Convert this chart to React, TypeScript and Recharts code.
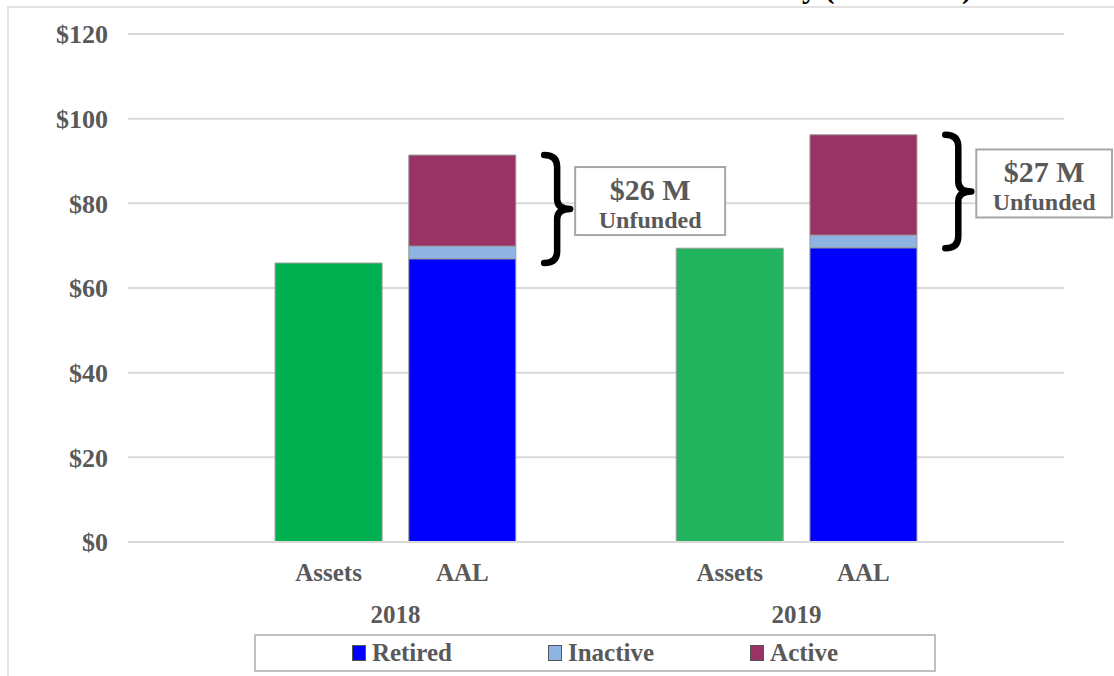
import React from 'react';
import { BarChart, Bar, XAxis, YAxis, CartesianGrid, ReferenceArea, Cell } from 'recharts';

// categories incl. empty spacer slots between the two years
const CATEGORIES = ['', 'Assets', 'AAL', '', 'Assets', 'AAL', ''];
const YEARS = ['', '2018', '2018', '', '2019', '2019', ''];
const ASSETS = [null, 65.9, null, null, 69.4, null, null];
const RETIRED = [null, null, 66.9, null, null, 69.5, null];
const INACTIVE = [null, null, 3.0, null, null, 3.0, null];
const ACTIVE = [null, null, 21.5, null, null, 23.7, null];
const ASSET_COLORS = ['#00B050', '#00B050', '#00B050', '#21B35E', '#21B35E', '#21B35E', '#21B35E'];
const Y_TICKS = [0, 20, 40, 60, 80, 100, 120];
const UNFUNDED_YEARS = ['2018', '2019'];
const UNFUNDED_LABELS = ['$26 M', '$27 M'];

const LEGEND = [
  { name: 'Retired', color: '#0000FF' },
  { name: 'Inactive', color: '#8EB4E3' },
  { name: 'Active', color: '#993366' },
];

const data = CATEGORIES.map((name, i) => ({
  id: String(i),
  name,
  year: YEARS[i],
  assets: ASSETS[i],
  retired: RETIRED[i],
  inactive: INACTIVE[i],
  active: ACTIVE[i],
}));

const annotations = UNFUNDED_YEARS.map((yr, k) => {
  const aal = data.find(d => d.year === yr && d.name === 'AAL')!;
  const assets = data.find(d => d.year === yr && d.name === 'Assets')!;
  return {
    id: aal.id,
    bottom: assets.assets as number,
    top: (aal.retired as number) + (aal.inactive as number) + (aal.active as number),
    label: UNFUNDED_LABELS[k],
  };
});

const FONT = '"Liberation Serif", "Times New Roman", serif';
const GRAY = '#595959';

const XTick = (props: any) => {
  const { x, y, index, width, visibleTicksCount } = props;
  const row = data[index];
  const band = width / visibleTicksCount;
  if (!row) return null;
  return (
    <g>
      <text x={x} y={y + 39} textAnchor="middle" fontFamily={FONT} fontWeight="bold" fontSize={25} fill={GRAY}>
        {row.name}
      </text>
      {row.name === 'AAL' && (
        <text x={x - band / 2} y={y + 81} textAnchor="middle" fontFamily={FONT} fontWeight="bold" fontSize={25} fill={GRAY}>
          {row.year}
        </text>
      )}
    </g>
  );
};

const makeBrace = (label: string) => (props: any) => {
  const { x, y, width, height } = props;
  const top = y;
  const bot = y + height;
  const mid = (top + bot) / 2;
  const bx = x + width + 15;
  const w = 26;
  const path = [
    `M ${bx} ${top}`,
    `Q ${bx + w / 2} ${top} ${bx + w / 2} ${top + 12}`,
    `L ${bx + w / 2} ${mid - 10}`,
    `Q ${bx + w / 2} ${mid} ${bx + w} ${mid}`,
    `Q ${bx + w / 2} ${mid} ${bx + w / 2} ${mid + 10}`,
    `L ${bx + w / 2} ${bot - 12}`,
    `Q ${bx + w / 2} ${bot} ${bx} ${bot}`,
  ].join(' ');
  const boxX = bx + 31;
  const boxW = Math.min(150, 1112 - boxX);
  const boxH = 68;
  const boxY = mid - 8 - boxH / 2;
  return (
    <g>
      <path d={path} fill="none" stroke="#000" strokeWidth={6.5} strokeLinejoin="round" strokeLinecap="round" />
      <rect x={boxX} y={boxY} width={boxW} height={boxH} fill="#fff" stroke="#a6a6a6" strokeWidth={2} />
      <text x={boxX + boxW / 2} y={boxY + 33} textAnchor="middle" fontFamily={FONT} fontWeight="bold" fontSize={30} fill={GRAY}>
        {label}
      </text>
      <text x={boxX + boxW / 2} y={boxY + 61} textAnchor="middle" fontFamily={FONT} fontWeight="bold" fontSize={24} fill={GRAY}>
        Unfunded
      </text>
    </g>
  );
};

export default function App() {
  return (
    <div style={{ position: 'absolute', left: 0, top: 0, width: 1114, height: 676, overflow: 'hidden', background: '#fff' }}>
      <div
        style={{
          position: 'absolute', right: 142, top: -27, fontFamily: FONT, fontWeight: 'bold',
          fontSize: 30, color: '#000', whiteSpace: 'nowrap', lineHeight: '30px',
        }}
      >
        Funded Status History ($ Millions)
      </div>
      <div style={{ position: 'absolute', left: 7, top: 6, width: 1200, height: 800, border: '2px solid #e3e3e3', boxSizing: 'border-box' }} />
      <div style={{ position: 'absolute', left: 0, top: 0 }}>
        <BarChart
          width={1114}
          height={676}
          data={data}
          margin={{ top: 34, right: 50, bottom: 54, left: 0 }}
          barCategoryGap="10%"
        >
          <CartesianGrid vertical={false} stroke="#d9d9d9" strokeWidth={2} />
          <XAxis
            dataKey="id"
            interval={0}
            tickLine={false}
            axisLine={{ stroke: '#d9d9d9', strokeWidth: 2 }}
            tickSize={0}
            tickMargin={0}
            height={80}
            tick={<XTick />}
          />
          <YAxis
            domain={[0, 120]}
            ticks={Y_TICKS}
            width={128}
            axisLine={false}
            tickLine={false}
            tickMargin={14}
            tickFormatter={(v: number) => `$${v}`}
            tick={{ fontFamily: FONT, fontWeight: 'bold', fontSize: 26, fill: GRAY }}
          />
          <Bar dataKey="assets" stackId="s" stroke="#9a9a9a" strokeWidth={1} isAnimationActive={false}>
            {data.map((d, i) => (
              <Cell key={d.id} fill={ASSET_COLORS[i]} />
            ))}
          </Bar>
          <Bar dataKey="retired" stackId="s" fill={LEGEND[0].color} stroke="#9a9a9a" strokeWidth={1} isAnimationActive={false} />
          <Bar dataKey="inactive" stackId="s" fill={LEGEND[1].color} stroke="#9a9a9a" strokeWidth={1} isAnimationActive={false} />
          <Bar dataKey="active" stackId="s" fill={LEGEND[2].color} stroke="#9a9a9a" strokeWidth={1} isAnimationActive={false} />
          {annotations.map(a => (
            <ReferenceArea
              key={a.id}
              x1={a.id}
              x2={a.id}
              y1={a.bottom}
              y2={a.top}
              shape={makeBrace(a.label)}
            />
          ))}
        </BarChart>
      </div>
      <div
        style={{
          position: 'absolute', left: 254, top: 634, width: 682, height: 38, boxSizing: 'border-box',
          border: '2px solid #bfbfbf', display: 'flex', justifyContent: 'center', alignItems: 'center',
          gap: 96, fontFamily: FONT, fontWeight: 'bold', fontSize: 25, color: GRAY,
        }}
      >
        {LEGEND.map(l => (
          <div key={l.name} style={{ display: 'flex', alignItems: 'center', gap: 6 }}>
            <span style={{ display: 'inline-block', width: 12, height: 14, background: l.color, border: '1px solid #555' }} />
            <span>{l.name}</span>
          </div>
        ))}
      </div>
    </div>
  );
}
